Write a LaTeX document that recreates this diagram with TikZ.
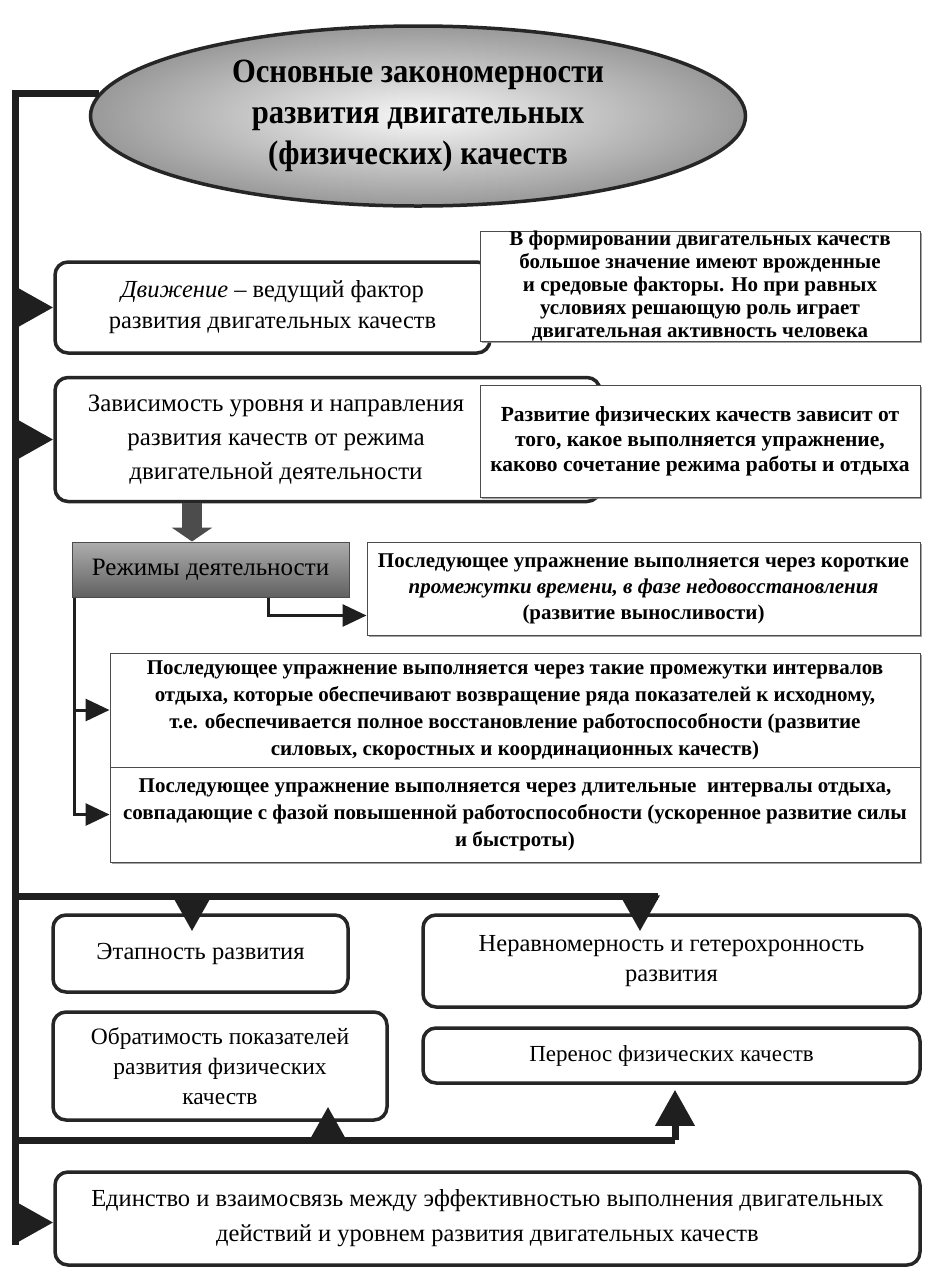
\documentclass[tikz,border=0pt]{standalone}
\usepackage{fontspec}
\setmainfont{Liberation Serif}
\newfontfamily\titlefont[FakeStretch=0.9]{Liberation Serif}
\usetikzlibrary{arrows.meta,shadows,shapes.geometric,calc}
\begin{document}
\begin{tikzpicture}[x=1pt,y=-1pt,
  rbox/.style={draw=black!85, line width=3.5pt, rounded corners=13pt, fill=white, inner sep=0pt, align=center, font=\fontsize{24.5}{31}\selectfont},
  rtext/.style={inner sep=0pt, align=center, font=\fontsize{24.5}{31}\selectfont},
  nbox/.style={draw=black!70, line width=1pt, fill=white, inner sep=0pt, align=center,
    font=\bfseries\fontsize{21}{23}\selectfont,
    drop shadow={shadow xshift=1.5pt, shadow yshift=-1.5pt, fill=black!45, opacity=0.8}},
  titleell/.style={ellipse, draw=black!85, line width=3.5pt, inner color=black!3, outer color=black!40,
    minimum width=655pt, minimum height=180pt, inner sep=0pt, align=center,
    font=\titlefont\bfseries\fontsize{34}{41}\selectfont},
  rejbox/.style={draw=black!70, line width=1pt, top color=black!32, middle color=black!8, bottom color=black!62,
    minimum width=277pt, minimum height=55pt, inner sep=0pt, font=\fontsize{25}{28}\selectfont},
  trunk/.style={line width=7pt, draw=black!88},
  bigarr/.style={trunk, -{Triangle[length=36pt,width=38pt]}},
  midline/.style={line width=3pt, draw=black!88},
  midarr/.style={midline, -{Triangle[length=24pt,width=22pt]}},
  blockarr/.style={line width=20pt, draw=black!70, -{Triangle[length=14pt,width=40pt]}}
]
\useasboundingbox (0,0) rectangle (933,1270);
\fill[white] (0,0) rectangle (933,1270);

% title
\node[titleell] (title) at (418,116) {Основные закономерности\\развития двигательных\\(физических) качеств};

% row 1
\node[rbox, minimum width=435pt, minimum height=91pt] (mv) at (272.5,307.5)
  {\textit{Движение} – ведущий фактор\\развития двигательных качеств};
\node[nbox, minimum width=440pt, minimum height=107pt] (mvR) at (700,286.5)
  {В формировании двигательных качеств\\большое значение имеют врожденные\\и средовые факторы. Но при равных\\условиях решающую роль играет\\двигательная активность человека};

% row 2
\node[rbox, minimum width=545pt, minimum height=124pt] (dep) at (327.5,439.5) {};
\node[rtext, font=\fontsize{25}{34}\selectfont] (depT) at (276,439.5)
  {Зависимость уровня и направления\\развития качеств от режима\\двигательной деятельности};
\node[nbox, minimum width=440pt, minimum height=112pt, font=\bfseries\fontsize{21.5}{25}\selectfont] (depR) at (700,441)
  {Развитие физических качеств зависит от\\того, какое выполняется упражнение,\\каково сочетание режима работы и отдыха};

% modes
\node[rejbox] (rej) at (210.5,569.5) {Режимы деятельности};
\node[nbox, minimum width=553pt, minimum height=93pt, font=\bfseries\fontsize{21}{26}\selectfont] (short) at (643.5,588.5)
  {Последующее упражнение выполняется через короткие\\\textit{промежутки времени, в фазе недовосстановления}\\(развитие выносливости)};
\node[nbox, minimum width=810pt, minimum height=114pt, font=\bfseries\fontsize{21}{27}\selectfont] (full) at (515,710)
  {Последующее упражнение выполняется через такие промежутки интервалов\\отдыха, которые обеспечивают возвращение ряда показателей к исходному,\\т.е. обеспечивается полное восстановление работоспособности (развитие\\силовых, скоростных и координационных качеств)};
\node[nbox, minimum width=810pt, minimum height=95pt, font=\bfseries\fontsize{21}{27}\selectfont] (long) at (515,814.5)
  {Последующее упражнение выполняется через длительные\ \ интервалы отдыха,\\совпадающие с фазой повышенной работоспособности (ускоренное развитие силы\\и быстроты)};

% lower boxes
\node[rbox, minimum width=295pt, minimum height=77pt] (etap) at (200.5,953.5) {Этапность развития};
\node[rbox, minimum width=497pt, minimum height=92pt, font=\fontsize{24.5}{30}\selectfont] (nerav) at (671.5,961)
  {Неравномерность и гетерохронность\\развития};
\node[rbox, minimum width=334pt, minimum height=108pt, font=\fontsize{23.5}{30}\selectfont] (obrat) at (220,1066)
  {Обратимость показателей\\развития физических\\качеств};
\node[rbox, minimum width=497pt, minimum height=55pt, font=\fontsize{23}{28}\selectfont] (perenos) at (671.5,1055.5) {Перенос физических качеств};
\node[rbox, minimum width=865pt, minimum height=93pt, font=\fontsize{24.5}{35}\selectfont] (unity) at (487.5,1218.5)
  {Единство и взаимосвязь между эффективностью выполнения двигательных\\действий и уровнем развития двигательных качеств};

% trunk
\coordinate (tkE) at (15,1245);
\coordinate (br) at (15,896);
\coordinate (brE) at (658,896);
\coordinate (bl) at (15,1140);
\draw[trunk] (title.176) -- (title.176 -| tkE) -- (tkE);
\draw[bigarr] (mv.west -| tkE) -- (mv.west);
\draw[bigarr] (dep.west -| tkE) -- (dep.west);
\draw[bigarr] ([yshift=-4pt]unity.west -| tkE) -- ([yshift=-4pt]unity.west);

% modes connectors
\draw[blockarr] ([xshift=-18.5pt]rej.north |- dep.south) -- ([xshift=-18.5pt]rej.north);
\draw[midarr] ([xshift=58pt]rej.south) |- ([yshift=-27pt]short.west);
\coordinate (it) at ([xshift=3pt]rej.south west);
\draw[midarr] (it) |- (long.west);
\draw[midarr] (it |- full.west) -- (full.west);

% branch
\draw[trunk] (br) -- (brE);
\draw[bigarr] ([xshift=-8.5pt]etap.north |- br) -- ([xshift=-8.5pt,yshift=-18pt]etap.north);
\draw[bigarr] ([xshift=-31.5pt]nerav.north |- br) -- ([xshift=-31.5pt,yshift=-18pt]nerav.north);

% bottom line
\draw[trunk] (bl) -- ([xshift=3.5pt]perenos.south |- bl);
\draw[bigarr] ([xshift=3.5pt]perenos.south |- bl) -- ([xshift=3.5pt,yshift=-5pt]perenos.south);
\draw[bigarr] ([xshift=108pt]obrat.south |- bl) -- ([xshift=108pt,yshift=15pt]obrat.south);
\end{tikzpicture}
\end{document}
